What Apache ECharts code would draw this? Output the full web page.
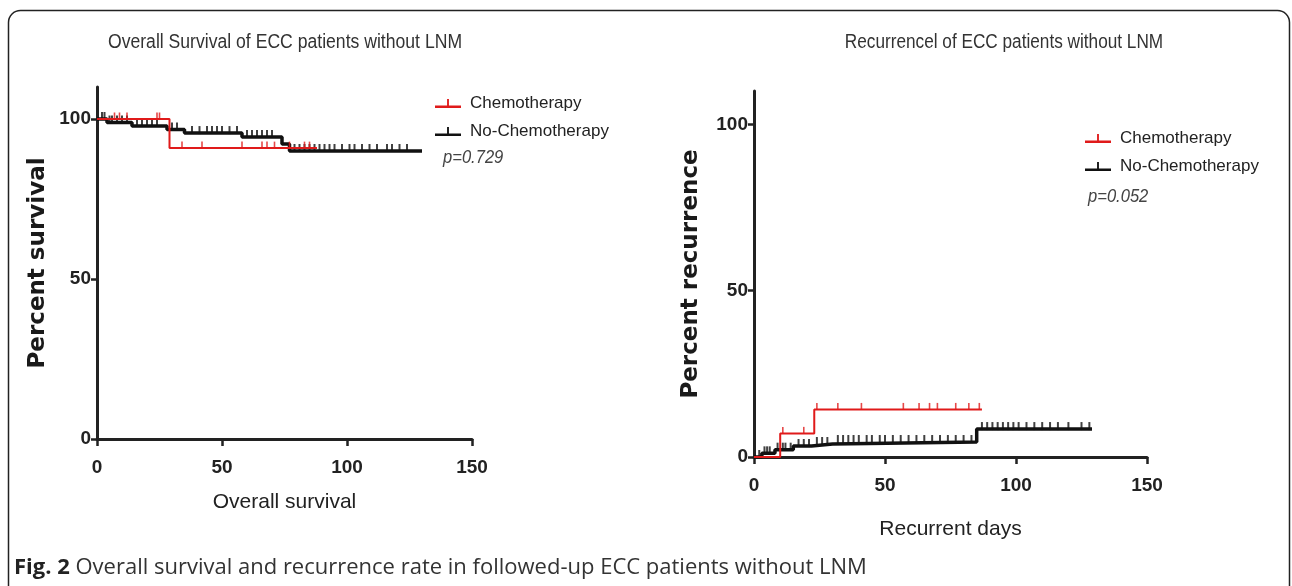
<!DOCTYPE html>
<html>
<head>
<meta charset="utf-8">
<script src="https://cdn.jsdelivr.net/npm/echarts@6/dist/echarts.min.js"></script>
<style>
  html, body { margin: 0; padding: 0; background: #fff; }
  #chart { width: 1292px; height: 586px; }
</style>
</head>
<body>
<div id="chart"></div>
<script>
// Kaplan-Meier steps: [time, percent]
const osChemoSteps = [[0, 100], [29, 90.9], [88, 90.9]];
const osChemoCensor = [7, 9, 12, 24, 25, 34, 42, 58, 66, 68, 71, 77, 83, 85];
const osNoChemoSteps = [[0, 100], [4, 98.9], [14, 97.8], [28, 96.7], [35, 95.6], [58, 94.4], [74, 92.2], [77, 90.0], [130, 90.0]];
const osNoChemoCensor = [2, 3, 5, 6, 8, 10, 12, 16, 18, 20, 22, 24, 30, 32, 38, 41, 44, 46, 48, 50, 53, 56, 60, 62, 64, 66, 68, 70,
  79, 81, 83, 85, 87, 89, 91, 93, 95, 98, 101, 103, 106, 109, 112, 116, 118, 121, 124];

const recChemoSteps = [[0, 0], [10, 7.1], [23, 14.3], [87, 14.3]];
const recChemoCensor = [11, 19, 24, 32, 41, 57, 63, 67, 70, 77, 82, 86];
const recNoChemoSteps = [[0, 0], [3, 1.1], [8, 2.2], [15, 3.3], [22, 3.9], [30, 4.5], [85, 8.4], [129, 8.4]];
const recNoChemoCensor = [2, 4, 5, 6, 9, 11, 12, 14, 17, 19, 21, 24, 26, 28, 32, 34, 36, 38, 40, 43, 45, 48, 50, 53, 56, 59, 62,
  65, 68, 71, 74, 77, 80, 83, 87, 89, 91, 93, 95, 97, 99, 101, 104, 107, 110, 113, 116, 120, 125, 128];

const xTicks = [0, 50, 100, 150];
const yTicks = [0, 50, 100];

const RED = '#e01a1a';
const BLACK = '#111';
const SANS = "'Liberation Sans', Arial, sans-serif";
const WIDE = "'DejaVu Sans', 'Liberation Sans', sans-serif";

// y of a step curve at time t (for censor ticks)
function stepAt(steps, t) {
  let y = steps[0][1];
  for (const [x, v] of steps) {
    if (x <= t) y = v;
  }
  return y;
}

function censorData(steps, times) {
  return times.map(t => [t, stepAt(steps, t)]);
}

const chart = echarts.init(document.getElementById('chart'));

function xAxis(gridIndex, name, gap) {
  return {
    gridIndex,
    type: 'value',
    min: 0,
    max: 150,
    interval: 50,
    name,
    nameLocation: 'middle',
    nameGap: gap,
    nameTextStyle: { fontFamily: SANS, fontSize: 21, color: '#222' },
    splitLine: { show: false },
    axisLine: { onZero: false, lineStyle: { color: '#222', width: 3 } },
    axisTick: { length: 7, customValues: xTicks, lineStyle: { color: '#222', width: 2.5 } },
    axisLabel: { customValues: xTicks, fontFamily: SANS, fontWeight: 'bold', fontSize: 19, color: '#222', margin: 19 }
  };
}

function yAxis(gridIndex, name, gap) {
  return {
    gridIndex,
    type: 'value',
    min: 0,
    max: 110,
    name,
    nameLocation: 'middle',
    nameGap: gap,
    nameRotate: 90,
    nameTextStyle: { fontFamily: WIDE, fontWeight: 'bold', fontSize: 23, color: '#1a1a1a' },
    splitLine: { show: false },
    axisLine: { show: true, lineStyle: { color: '#222', width: 3 } },
    axisTick: { show: true, length: 6, customValues: yTicks, lineStyle: { color: '#222', width: 2.5 } },
    axisLabel: { customValues: yTicks, fontFamily: SANS, fontWeight: 'bold', fontSize: 19, color: '#222', margin: 6 }
  };
}

function stepSeries(name, idx, steps, color, width) {
  return {
    name, type: 'line', xAxisIndex: idx, yAxisIndex: idx,
    step: 'end', data: steps, showSymbol: false, silent: true,
    lineStyle: { color, width }, itemStyle: { color }, z: color === RED ? 4 : 3
  };
}

function censorSeries(name, idx, steps, times, color) {
  return {
    name, type: 'scatter', xAxisIndex: idx, yAxisIndex: idx,
    data: censorData(steps, times), symbol: 'rect',
    symbolSize: color === RED ? [1.6, 7] : [2, 8], symbolOffset: [0, -3],
    itemStyle: { color }, silent: true, z: color === RED ? 5 : 3
  };
}

const legendIcon = 'path://M0,9 L28,9 L28,11.5 L0,11.5 Z M13,2 L15,2 L15,9 L13,9 Z';

function legend(left, top) {
  return {
    show: true,
    orient: 'vertical',
    left, top,
    itemWidth: 26, itemHeight: 10, itemGap: 11,
    icon: legendIcon,
    data: ['Chemotherapy', 'No-Chemotherapy'],
    selectedMode: false,
    textStyle: { fontFamily: SANS, fontSize: 17, color: '#222', padding: [0, 0, 0, 4] }
  };
}

// narrow-looking text: drawn with a horizontal squeeze
function narrowText(x, y, text, size, opts = {}) {
  return {
    type: 'text', x, y, scaleX: opts.scaleX || 0.88, silent: true,
    style: { text, align: opts.align || 'left', verticalAlign: 'middle',
      font: (opts.italic ? 'italic ' : '') + size + 'px ' + SANS, fill: opts.fill || '#333' }
  };
}

chart.setOption({
  animation: false,
  backgroundColor: '#fff',
  grid: [
    { left: 97, width: 375, top: 87, height: 352 },
    { left: 754, width: 393, top: 91, height: 366 }
  ],
  xAxis: [xAxis(0, 'Overall survival', 53), xAxis(1, 'Recurrent days', 62)],
  yAxis: [yAxis(0, 'Percent survival', 47), yAxis(1, 'Percent recurrence', 51)],
  legend: [legend(430, 90), legend(1080, 125)],
  series: [
    stepSeries('No-Chemotherapy', 0, osNoChemoSteps, BLACK, 3.5),
    censorSeries('No-Chemotherapy', 0, osNoChemoSteps, osNoChemoCensor, BLACK),
    stepSeries('Chemotherapy', 0, osChemoSteps, RED, 2),
    censorSeries('Chemotherapy', 0, osChemoSteps, osChemoCensor, RED),
    stepSeries('No-Chemotherapy', 1, recNoChemoSteps, BLACK, 3.5),
    censorSeries('No-Chemotherapy', 1, recNoChemoSteps, recNoChemoCensor, BLACK),
    stepSeries('Chemotherapy', 1, recChemoSteps, RED, 2),
    censorSeries('Chemotherapy', 1, recChemoSteps, recChemoCensor, RED)
  ],
  graphic: [
    // figure frame
    { type: 'rect', shape: { x: 8.5, y: 10.5, width: 1281, height: 620, r: 12 },
      style: { fill: 'none', stroke: '#222', lineWidth: 1.5 }, silent: true },
    narrowText(285, 42, 'Overall Survival of ECC patients without LNM', 20, { align: 'center' }),
    narrowText(1004, 42, 'Recurrencel of ECC patients without LNM', 20, { align: 'center', scaleX: 0.86 }),
    narrowText(443, 158, 'p=0.729', 18, { italic: true, fill: '#444', scaleX: 0.92 }),
    narrowText(1088, 197, 'p=0.052', 18, { italic: true, fill: '#444', scaleX: 0.92 }),
    { type: 'text', x: 14, y: 568, silent: true, style: { text: '{b|Fig. 2} Overall survival and recurrence rate in followed-up ECC patients without LNM',
      verticalAlign: 'middle', font: "22px 'Open Sans', 'Noto Sans', sans-serif", fill: '#333',
      rich: { b: { fontWeight: 'bold', fontSize: 22, fontFamily: "'Open Sans', 'Noto Sans', sans-serif", fill: '#222' } } } }
  ]
});
</script>
</body>
</html>
